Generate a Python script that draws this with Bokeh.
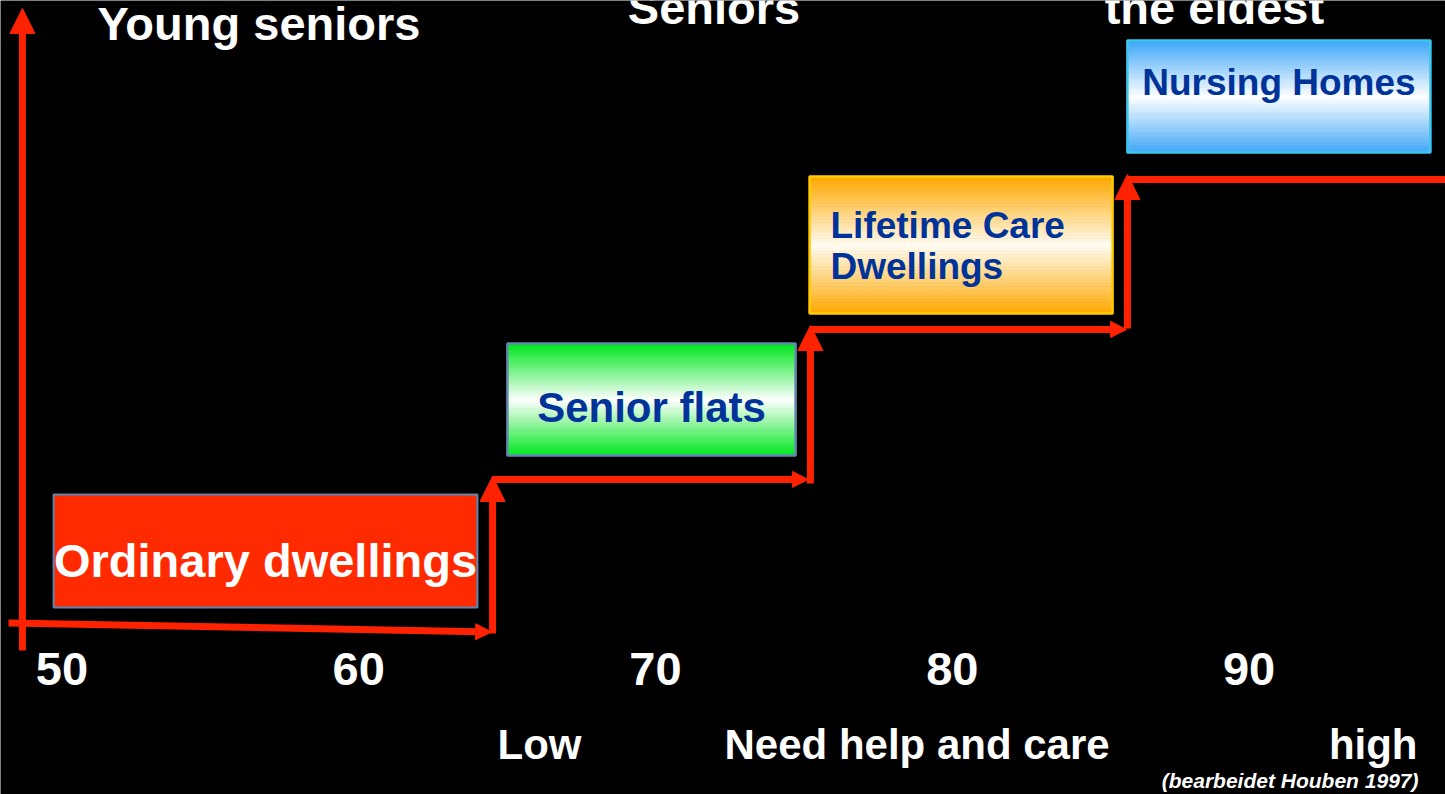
import numpy as np
from bokeh.plotting import figure
from bokeh.models import Range1d, Arrow, NormalHead, ColumnDataSource
from bokeh.core.properties import value
from bokeh.embed import file_html
from bokeh.resources import INLINE

# ---------------- data ----------------
age_ticks = [50, 60, 70, 80, 90]
age_tick_labels = ["50", "60", "70", "80", "90"]

group_labels = ["Young seniors", "Seniors", "the eldest"]
group_ages = [56.64, 71.97, 88.83]

need_labels = ["Low", "Need help and care", "high"]
source_note = "(bearbeidet Houben 1997)"

housing = ["Ordinary dwellings", "Senior flats", "Lifetime Care", "Nursing Homes"]
box_age_start = [49.72, 65.01, 75.19, 85.90]
box_age_end = [64.00, 74.72, 85.40, 96.11]
box_level_low = [0.133, 1.147, 2.093, 3.167]
box_level_high = [0.887, 1.893, 3.007, 3.913]

# staircase: age at which each step rises, care level of each step
step_ages = [48.67, 64.51, 75.22, 85.90, 97.40]
step_levels = [0, 1, 2, 3]

# ---------------- styles ----------------
RED = "#ff2200"
BLUE_TXT = "#003399"
FONT = value("Liberation Sans")
PX_PER_LEVEL = 150.0

p = figure(width=1445, height=794,
           x_range=Range1d(47.931, 96.617), y_range=Range1d(-1.1133, 4.18),
           output_backend="svg", toolbar_location=None, min_border=0,
           x_axis_type=None, y_axis_type=None,
           background_fill_color="black", border_fill_color="black",
           outline_line_color=None)
p.grid.visible = False

# ---------------- boxes ----------------
p.quad(left=[box_age_start[0]], right=[box_age_end[0]],
       bottom=[box_level_low[0]], top=[box_level_high[0]],
       fill_color="#ff2a00", line_color="#5b87b5", line_width=2)

edge_colors = [None, (0, 232, 30), (255, 168, 0), (64, 168, 248)]
center_colors = [None, (255, 255, 255), (255, 252, 242), (255, 255, 255)]
border_colors = [None, "#6288ad", "#ffcc00", "#38c8f0"]
N = 60
for i in (1, 2, 3):
    lo, hi = box_level_low[i], box_level_high[i]
    edges = np.linspace(lo, hi, N + 1)
    mids = (edges[:-1] + edges[1:]) / 2
    c, h = (lo + hi) / 2, (hi - lo) / 2
    t = np.abs(mids - c) / h
    e = np.array(edge_colors[i], dtype=float)
    w = np.array(center_colors[i], dtype=float)
    rgb = np.outer(t, e) + np.outer(1 - t, w)
    cols = ["#%02x%02x%02x" % tuple(int(round(v)) for v in row) for row in rgb]
    p.quad(left=[box_age_start[i]] * N, right=[box_age_end[i]] * N,
           bottom=edges[:-1], top=edges[1:],
           fill_color=cols, line_color=cols, line_width=1)
    p.quad(left=[box_age_start[i]], right=[box_age_end[i]],
           bottom=[lo], top=[hi], fill_color=None,
           line_color=border_colors[i], line_width=2.5)

# ---------------- staircase arrows ----------------
hx0 = [step_ages[0] - 0.47] + step_ages[1:4]
hx1 = [step_ages[1] - 0.03, step_ages[2] - 0.07, step_ages[3] - 0.03, step_ages[4]]
hy0 = [step_levels[0] + 0.03] + [l - 0.013 for l in step_levels[1:]]
hy1 = [step_levels[0] - 0.03] + [l - 0.013 for l in step_levels[1:]]
p.add_layout(Arrow(source=ColumnDataSource(dict(x0=hx0, y0=hy0, x1=hx1, y1=hy1)),
                   x_start="x0", y_start="y0", x_end="x1", y_end="y1",
                   line_color=RED, line_width=7,
                   end=NormalHead(size=16, fill_color=RED, line_color=RED, line_width=1)))

vx = step_ages[0:4]
vy0 = [-0.153, step_levels[0] - 0.04, step_levels[1] - 0.04, step_levels[2] - 0.007]
vy1 = [4.127, step_levels[1] + 0.007, step_levels[2] + 0.013, step_levels[3] + 0.02]
p.add_layout(Arrow(source=ColumnDataSource(dict(x0=vx, y0=vy0, x1=vx, y1=vy1)),
                   x_start="x0", y_start="y0", x_end="x1", y_end="y1",
                   line_color=RED, line_width=7,
                   end=NormalHead(size=25, fill_color=RED, line_color=RED, line_width=1)))

# ---------------- texts ----------------
def txt(x, y, t, size, color="white", align="center", style="bold"):
    # compensate the renderer's baseline offset (about a third of the font size)
    dy = 0.32 * size / PX_PER_LEVEL
    p.text(x=x, y=[v + dy for v in y], text=t, text_font=FONT,
           text_font_style=style, text_font_size="%dpx" % size,
           text_color=color, text_align=align, text_baseline="alphabetic")

txt(group_ages, [3.927, 4.033, 4.033], group_labels, 47)
txt(age_ticks, [-0.38] * 5, age_tick_labels, 47)
txt([64.677, 72.325], [-0.867, -0.867], need_labels[:2], 42, align="left")
txt([95.674], [-0.867], need_labels[2:], 42, align="right")
txt([95.707], [-1.067], [source_note], 21, align="right", style="bold italic")

cx = [(a + b) / 2 for a, b in zip(box_age_start, box_age_end)]
txt([cx[0]], [0.347], [housing[0]], 47)
txt([cx[1]], [1.38], [housing[1]], 42, color=BLUE_TXT)
txt([75.896, 75.896], [2.6, 2.327], [housing[2], "Dwellings"], 37,
    color=BLUE_TXT, align="left")
txt([cx[3]], [3.553], [housing[3]], 37, color=BLUE_TXT)

open("out.html", "w").write(file_html(p, INLINE))
